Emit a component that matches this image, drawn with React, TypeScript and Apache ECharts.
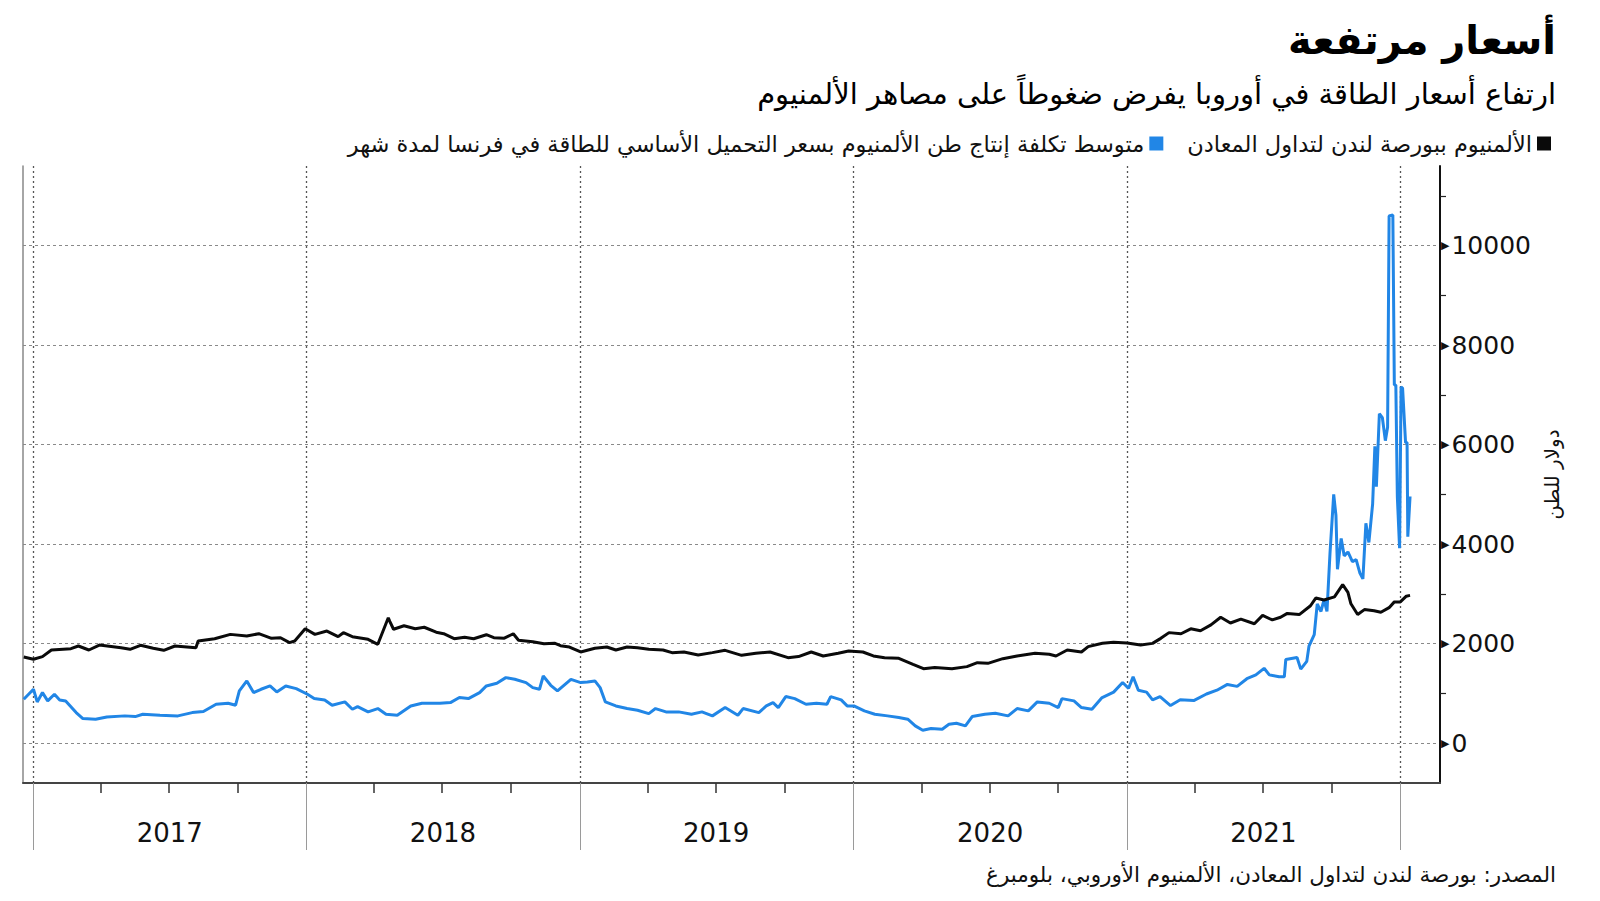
import React, { useEffect, useRef } from 'react';
import * as echarts from 'echarts';

const TITLE = 'أسعار مرتفعة';
const SUBTITLE = 'ارتفاع أسعار الطاقة في أوروبا يفرض ضغوطاً على مصاهر الألمنيوم';
const LEGEND_LME = 'الألمنيوم ببورصة لندن لتداول المعادن';
const LEGEND_COST = 'متوسط تكلفة إنتاج طن الألمنيوم بسعر التحميل الأساسي للطاقة في فرنسا لمدة شهر';
const SOURCE = 'المصدر: بورصة لندن لتداول المعادن، الألمنيوم الأوروبي، بلومبرغ';
const Y_NAME = 'دولار للطن';

const yearLabels = [2017, 2018, 2019, 2020, 2021];
const yearBoundaries = [2017, 2018, 2019, 2020, 2021, 2022];
const quarterMonths = [3, 6, 9];
const yLabelValues = [0, 2000, 4000, 6000, 8000, 10000];
const yMinorTicks = [1000, 3000, 5000, 7000, 9000, 11000];
const X_START = '2016-12-18';
const X_END = '2022-02-23';
const Y_MIN = -800;
const Y_MAX = 11600;

// LME aluminium price, USD/t
const lme: [string, number][] = [
  ['2016-12-19', 1733], ['2017-01-01', 1686], ['2017-01-13', 1740], ['2017-01-25', 1873],
  ['2017-02-20', 1900], ['2017-03-02', 1953], ['2017-03-16', 1873], ['2017-03-30', 1973],
  ['2017-04-28', 1920], ['2017-05-10', 1887], ['2017-05-24', 1967], ['2017-06-10', 1907],
  ['2017-06-24', 1866], ['2017-07-09', 1953], ['2017-08-06', 1920], ['2017-08-09', 2054],
  ['2017-08-31', 2100], ['2017-09-21', 2187], ['2017-10-13', 2154], ['2017-10-29', 2201],
  ['2017-11-15', 2107], ['2017-11-27', 2120], ['2017-12-09', 2020], ['2017-12-16', 2054],
  ['2017-12-30', 2301], ['2018-01-12', 2187], ['2018-01-28', 2254], ['2018-02-12', 2141],
  ['2018-02-19', 2221], ['2018-03-03', 2141], ['2018-03-24', 2087], ['2018-04-06', 1987],
  ['2018-04-20', 2522], ['2018-04-22', 2450], ['2018-04-27', 2290], ['2018-05-11', 2360],
  ['2018-05-26', 2300], ['2018-06-07', 2330], ['2018-06-23', 2230], ['2018-07-03', 2200],
  ['2018-07-17', 2100], ['2018-07-31', 2130], ['2018-08-12', 2100], ['2018-08-29', 2180],
  ['2018-09-08', 2120], ['2018-09-22', 2110], ['2018-10-04', 2200], ['2018-10-11', 2070],
  ['2018-10-30', 2040], ['2018-11-14', 2000], ['2018-11-28', 2010], ['2018-12-06', 1960],
  ['2018-12-18', 1933], ['2019-01-02', 1833], ['2019-01-21', 1907], ['2019-02-06', 1933],
  ['2019-02-18', 1873], ['2019-03-05', 1933], ['2019-03-19', 1920], ['2019-04-03', 1887],
  ['2019-04-22', 1873], ['2019-05-04', 1820], ['2019-05-20', 1833], ['2019-06-08', 1773],
  ['2019-06-27', 1820], ['2019-07-14', 1866], ['2019-08-05', 1766], ['2019-08-24', 1806],
  ['2019-09-12', 1833], ['2019-10-06', 1719], ['2019-10-20', 1740], ['2019-11-06', 1833],
  ['2019-11-22', 1753], ['2019-12-12', 1806], ['2019-12-26', 1853], ['2020-01-14', 1833],
  ['2020-01-28', 1753], ['2020-02-12', 1719], ['2020-03-02', 1706], ['2020-03-21', 1585],
  ['2020-04-04', 1498], ['2020-04-19', 1519], ['2020-05-12', 1498], ['2020-06-01', 1539],
  ['2020-06-15', 1619], ['2020-06-29', 1605], ['2020-07-19', 1699], ['2020-08-07', 1753],
  ['2020-08-31', 1806], ['2020-09-19', 1786], ['2020-09-28', 1753], ['2020-10-13', 1873],
  ['2020-11-01', 1833], ['2020-11-10', 1940], ['2020-11-29', 2007], ['2020-12-14', 2029],
  ['2021-01-01', 2014], ['2021-01-19', 1975], ['2021-02-04', 2006], ['2021-02-15', 2107],
  ['2021-02-26', 2222], ['2021-03-14', 2199], ['2021-03-27', 2299], ['2021-04-09', 2261],
  ['2021-04-23', 2377], ['2021-05-06', 2531], ['2021-05-19', 2415], ['2021-06-02', 2492],
  ['2021-06-20', 2400], ['2021-07-01', 2569], ['2021-07-14', 2477], ['2021-07-25', 2531],
  ['2021-08-03', 2608], ['2021-08-19', 2585], ['2021-09-03', 2762], ['2021-09-10', 2917],
  ['2021-09-21', 2878], ['2021-10-05', 2940], ['2021-10-16', 3187], ['2021-10-23', 3032],
  ['2021-10-27', 2801], ['2021-11-05', 2585], ['2021-11-14', 2685], ['2021-11-27', 2662],
  ['2021-12-06', 2631], ['2021-12-17', 2724], ['2021-12-24', 2840], ['2022-01-01', 2840],
  ['2022-01-09', 2955], ['2022-01-14', 2971],
];

// Average cost to produce a ton of aluminium at French baseload power price
const cost: [string, number][] = [
  ['2016-12-19', 883], ['2017-01-01', 1084], ['2017-01-06', 830], ['2017-01-13', 1017],
  ['2017-01-20', 850], ['2017-01-29', 983], ['2017-02-05', 870], ['2017-02-13', 850],
  ['2017-02-27', 615], ['2017-03-08', 495], ['2017-03-25', 482], ['2017-04-09', 528],
  ['2017-05-03', 549], ['2017-05-17', 535], ['2017-05-27', 582], ['2017-06-19', 562],
  ['2017-07-13', 549], ['2017-08-01', 615], ['2017-08-16', 636], ['2017-09-02', 783],
  ['2017-09-18', 803], ['2017-09-28', 763], ['2017-10-03', 1050], ['2017-10-13', 1251],
  ['2017-10-22', 1017], ['2017-11-01', 1084], ['2017-11-13', 1151], ['2017-11-22', 1030],
  ['2017-12-04', 1151], ['2017-12-18', 1097], ['2018-01-02', 983], ['2018-01-11', 896],
  ['2018-01-25', 870], ['2018-02-04', 763], ['2018-02-21', 830], ['2018-03-03', 682],
  ['2018-03-10', 736], ['2018-03-24', 629], ['2018-04-06', 696], ['2018-04-17', 582],
  ['2018-05-02', 562], ['2018-05-20', 749], ['2018-06-04', 803], ['2018-06-28', 803],
  ['2018-07-12', 816], ['2018-07-24', 917], ['2018-08-05', 896], ['2018-08-20', 1017],
  ['2018-08-29', 1151], ['2018-09-12', 1204], ['2018-09-24', 1318], ['2018-10-06', 1284],
  ['2018-10-21', 1218], ['2018-10-30', 1117], ['2018-11-08', 1084], ['2018-11-13', 1351],
  ['2018-11-23', 1164], ['2018-12-02', 1050], ['2018-12-20', 1284], ['2019-01-02', 1218],
  ['2019-01-11', 1231], ['2019-01-21', 1251], ['2019-01-28', 1117], ['2019-02-04', 830],
  ['2019-02-18', 749], ['2019-03-05', 696], ['2019-03-19', 662], ['2019-04-03', 595],
  ['2019-04-12', 696], ['2019-04-26', 629], ['2019-05-13', 629], ['2019-05-30', 582],
  ['2019-06-13', 629], ['2019-06-27', 549], ['2019-07-14', 716], ['2019-07-31', 562],
  ['2019-08-07', 696], ['2019-08-28', 615], ['2019-09-07', 749], ['2019-09-16', 816],
  ['2019-09-23', 716], ['2019-10-03', 937], ['2019-10-15', 896], ['2019-10-30', 783],
  ['2019-11-13', 803], ['2019-11-27', 783], ['2019-12-02', 937], ['2019-12-16', 870],
  ['2019-12-24', 749], ['2020-01-02', 749], ['2020-01-16', 649], ['2020-01-30', 582],
  ['2020-02-16', 549], ['2020-03-02', 515], ['2020-03-14', 482], ['2020-03-24', 348],
  ['2020-04-03', 261], ['2020-04-14', 294], ['2020-04-29', 281], ['2020-05-08', 381],
  ['2020-05-18', 401], ['2020-05-30', 348], ['2020-06-08', 535], ['2020-06-25', 582],
  ['2020-07-09', 602], ['2020-07-26', 549], ['2020-08-07', 696], ['2020-08-22', 649],
  ['2020-09-03', 830], ['2020-09-19', 803], ['2020-10-01', 716], ['2020-10-06', 896],
  ['2020-10-22', 850], ['2020-11-01', 716], ['2020-11-15', 682], ['2020-11-28', 910],
  ['2020-12-14', 1026], ['2020-12-26', 1219], ['2021-01-03', 1103], ['2021-01-09', 1335],
  ['2021-01-16', 1065], ['2021-01-27', 1026], ['2021-02-04', 872], ['2021-02-14', 934],
  ['2021-02-28', 756], ['2021-03-13', 872], ['2021-03-31', 857], ['2021-04-17', 988],
  ['2021-05-01', 1065], ['2021-05-15', 1181], ['2021-05-28', 1142], ['2021-06-10', 1296],
  ['2021-06-22', 1373], ['2021-07-03', 1505], ['2021-07-10', 1373], ['2021-07-23', 1335],
  ['2021-07-30', 1335], ['2021-08-01', 1682], ['2021-08-16', 1721], ['2021-08-21', 1489],
  ['2021-08-29', 1644], ['2021-09-01', 1952], ['2021-09-08', 2184], ['2021-09-12', 2801],
  ['2021-09-17', 2647], ['2021-09-21', 2878], ['2021-09-25', 2647], ['2021-09-29', 3804],
  ['2021-10-04', 5000], ['2021-10-07', 4576], ['2021-10-09', 3495], ['2021-10-14', 4113],
  ['2021-10-18', 3765], ['2021-10-23', 3843], ['2021-10-29', 3650], ['2021-11-03', 3688],
  ['2021-11-08', 3418], ['2021-11-12', 3302], ['2021-11-16', 4421], ['2021-11-20', 4035],
  ['2021-11-25', 4807], ['2021-11-28', 5965], ['2021-11-30', 5154], ['2021-12-04', 6620],
  ['2021-12-08', 6543], ['2021-12-12', 6080], ['2021-12-15', 6350], ['2021-12-17', 10594],
  ['2021-12-22', 10617], ['2021-12-24', 7199], ['2021-12-26', 7199], ['2021-12-28', 4961],
  ['2021-12-31', 3920], ['2022-01-02', 7160], ['2022-01-04', 7137], ['2022-01-08', 6042],
  ['2022-01-10', 6042], ['2022-01-11', 4151], ['2022-01-14', 4961],
];

const FONT = "'DejaVu Sans', sans-serif";
const BLUE = '#2186e6';
const BLACK = '#0a0a0a';

const ts = (d: string) => Date.parse(d + 'T00:00:00Z');

export default function App() {
  const ref = useRef<HTMLDivElement>(null);

  useEffect(() => {
    if (!ref.current) return;
    const chart = echarts.init(ref.current, undefined, { renderer: 'svg' });

    const yearStarts = yearBoundaries.map((y) => Date.UTC(y, 0, 1));
    const midYears = yearLabels.map((y) => Date.UTC(y, 6, 2));
    const quarterStarts: number[] = [];
    yearLabels.forEach((y) => quarterMonths.forEach((m) => quarterStarts.push(Date.UTC(y, m, 1))));
    const xMin = ts(X_START);
    const xMax = ts(X_END);

    const option: any = {
      animation: false,
      backgroundColor: '#ffffff',
      grid: { left: 23, right: 160, top: 166, bottom: 118, containLabel: false },
      legend: {
        data: [LEGEND_COST, LEGEND_LME],
        right: 44,
        top: 127,
        align: 'right',
        icon: 'rect',
        itemWidth: 14,
        itemHeight: 14,
        itemGap: 24,
        selectedMode: false,
        textStyle: { fontSize: 22.5, fontFamily: FONT, color: '#111' },
      },
      graphic: [
        {
          type: 'text',
          x: 1556,
          y: 40,
          style: {
            text: TITLE,
            textAlign: 'right',
            textVerticalAlign: 'middle',
            fontSize: 40,
            fontWeight: 'bold',
            fontFamily: FONT,
            fill: '#000',
          },
        },
        {
          type: 'text',
          x: 1556,
          y: 94,
          style: {
            text: SUBTITLE,
            textAlign: 'right',
            textVerticalAlign: 'middle',
            fontSize: 29,
            fontFamily: FONT,
            fill: '#000',
          },
        },
        {
          type: 'text',
          x: 1556,
          y: 874,
          style: {
            text: SOURCE,
            textAlign: 'right',
            textVerticalAlign: 'middle',
            fontSize: 21.5,
            fontFamily: FONT,
            fill: '#111',
          },
        },
      ],
      xAxis: [
        {
          type: 'value',
          position: 'bottom',
          min: xMin,
          max: xMax,
          axisLine: { show: true, onZero: false, lineStyle: { color: '#444', width: 2 } },
          axisTick: { show: true, customValues: yearStarts, length: 67, lineStyle: { color: '#9a9a9a', width: 1 } },
          axisLabel: {
            customValues: midYears,
            formatter: (v: number) => String(new Date(v).getUTCFullYear()),
            margin: 37,
            fontSize: 26,
            fontFamily: FONT,
            color: '#111',
          },
          splitLine: { show: true, lineStyle: { type: [2, 3], color: '#555', width: 1.3 } },
        },
        {
          type: 'value',
          position: 'bottom',
          min: xMin,
          max: xMax,
          axisLine: { show: false, onZero: false },
          axisTick: { show: true, customValues: quarterStarts, length: 10, lineStyle: { color: '#333', width: 1.5 } },
          axisLabel: { show: false },
          splitLine: { show: false },
        },
      ],
      yAxis: [
        {
          type: 'value',
          position: 'right',
          min: Y_MIN,
          max: Y_MAX,
          axisLine: { show: true, onZero: false, lineStyle: { color: '#111', width: 2 } },
          axisTick: { show: true, customValues: yMinorTicks, length: 6, lineStyle: { color: '#222', width: 1.2 } },
          axisLabel: {
            customValues: yLabelValues,
            margin: 1,
            formatter: (v: number) => `{t|▶}${v}`,
            fontSize: 25,
            fontFamily: FONT,
            color: '#111',
            rich: { t: { fontSize: 11, fontFamily: FONT, color: '#111', padding: [0, 2, 0, 0] } },
          },
          splitLine: { show: false },
          name: Y_NAME,
          nameLocation: 'middle',
          nameGap: 102,
          nameRotate: 90,
          nameTextStyle: { fontSize: 20, fontFamily: FONT, color: '#111' },
        },
        {
          type: 'value',
          position: 'right',
          min: Y_MIN,
          max: Y_MAX,
          axisLine: { show: false, onZero: false },
          axisTick: { show: false, customValues: yLabelValues },
          axisLabel: { show: false },
          splitLine: { show: true, lineStyle: { type: [3, 3], color: '#8a8a8a', width: 1.2 } },
        },
        {
          type: 'value',
          position: 'left',
          min: Y_MIN,
          max: Y_MAX,
          axisLine: { show: true, onZero: false, lineStyle: { color: '#888', width: 1.5 } },
          axisTick: { show: false },
          axisLabel: { show: false },
          splitLine: { show: false },
        },
      ],
      series: [
        {
          name: LEGEND_COST,
          type: 'line',
          xAxisIndex: 0,
          yAxisIndex: 0,
          data: cost.map(([d, v]) => [ts(d), v]),
          showSymbol: false,
          symbol: 'none',
          lineStyle: { color: BLUE, width: 3 },
          itemStyle: { color: BLUE },
        },
        {
          name: LEGEND_LME,
          type: 'line',
          xAxisIndex: 0,
          yAxisIndex: 0,
          data: lme.map(([d, v]) => [ts(d), v]),
          showSymbol: false,
          symbol: 'none',
          lineStyle: { color: BLACK, width: 3 },
          itemStyle: { color: BLACK },
        },
      ],
    };

    chart.setOption(option);
    return () => chart.dispose();
  }, []);

  return (
    <div
      ref={ref}
      style={{ position: 'fixed', left: 0, top: 0, width: 1600, height: 901, background: '#fff' }}
    />
  );
}
